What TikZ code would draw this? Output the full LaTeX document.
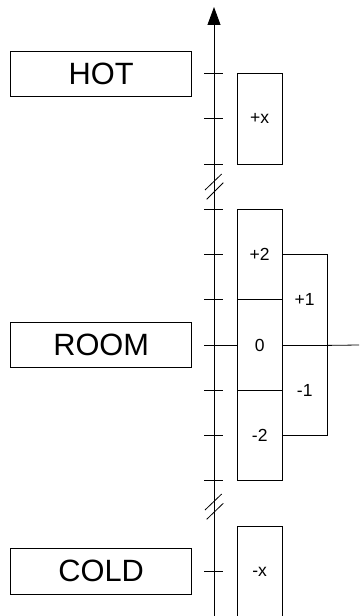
\documentclass[tikz,border=0pt]{standalone}
\usepackage{fontspec}
\setmainfont{Liberation Sans}
\usetikzlibrary{arrows.meta}
\begin{document}
\begin{tikzpicture}[x=1bp,y=-1bp,
  lbl/.style={draw, line width=0.8bp, inner sep=0pt, minimum width=181bp, minimum height=45.7bp, font=\fontsize{30.8bp}{36bp}\selectfont},
  cell/.style={draw, line width=0.8bp, inner sep=0pt, minimum width=45.3bp, minimum height=90.6bp, font=\fontsize{17.5bp}{20bp}\selectfont},
  tickline/.style={line width=0.8bp},
  brk/.style={line width=0.8bp}]
\useasboundingbox (0,0) rectangle (359,616);
\clip (0,0) rectangle (359,616);
% axis
\coordinate (top) at (214,7);
\coordinate (bot) at (214,617);
\draw[line width=0.8bp, -{Triangle[length=18bp,width=13bp]}] (bot) -- (top);
% ticks
\foreach \y in {73,118.7,164,209.3,254.3,299.7,390.3,435.3,480.7,571}
  \draw[tickline] (204,\y) -- (223,\y);
% labels
\node[lbl] (hot) at (101.2,73.8) {HOT};
\node[lbl] (room) at (101.2,345) {ROOM};
\node[lbl] (cold) at (101.2,571.2) {COLD};
% cells
\node[cell] (px) at (259.7,118.7) {+x};
\node[cell] (p2) at (259.7,254.5) {+2};
\node[cell] (zero) at (259.7,345) {0};
\node[cell] (m2) at (259.7,435.5) {-2};
\node[cell] (p1) at (304.7,299.7) {+1};
\node[cell] (m1) at (304.7,390.2) {-1};
\node[cell] (mx) at (259.7,571.5) {-x};
% room level line
\coordinate (rtick) at (204,345);
\coordinate (rend) at (359,345);
\draw[tickline] (rtick) -- (zero.west);
\draw[tickline] (p1.south east) -- (rend);
% breaks
\draw[brk] (205,190) -- (221.7,174);
\draw[brk] (206.7,199.3) -- (223.3,182.7);
\draw[brk] (205,510) -- (221.7,494);
\draw[brk] (206.7,519.3) -- (223.3,503.3);
\end{tikzpicture}
\end{document}
